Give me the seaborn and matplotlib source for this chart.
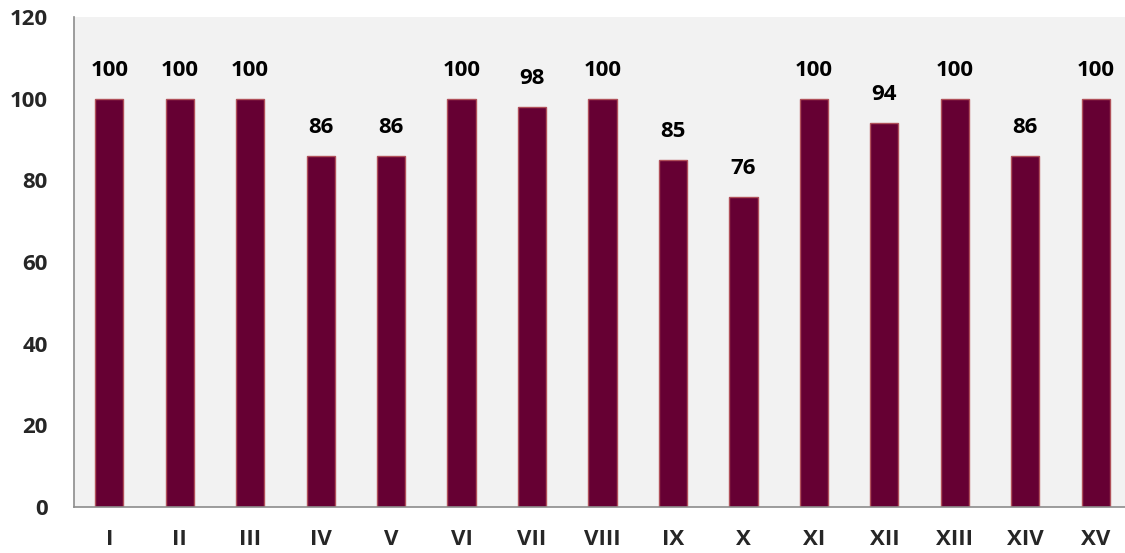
import matplotlib
matplotlib.use("Agg")
import matplotlib.pyplot as plt
import seaborn as sns
import pandas as pd
import numpy as np

categories = ["I", "II", "III", "IV", "V", "VI", "VII", "VIII", "IX", "X",
              "XI", "XII", "XIII", "XIV", "XV"]
values = [100, 100, 100, 86, 86, 100, 98, 100, 85, 76, 100, 94, 100, 86, 100]
y_ticks = [0, 20, 40, 60, 80, 100, 120]

sns.set_style("white")
plt.rcParams["font.family"] = ["Open Sans", "DejaVu Sans"]

df = pd.DataFrame({"group": categories, "value": values})

fig = plt.figure(figsize=(11.25, 5.53), dpi=100)
ax = fig.add_axes([74 / 1125, 1 - 507 / 553, 1057 / 1125, 490 / 553])
ax.set_facecolor("#F2F2F2")

sns.barplot(data=df, x="group", y="value", ax=ax, color="#660033",
            saturation=1, width=0.40, edgecolor="#B0505A", linewidth=1.0)

for i, v in enumerate(values):
    ax.annotate(f"{v}", xy=(i, v), xytext=(0, 13), textcoords="offset points",
                ha="center", va="bottom", fontsize=16, fontweight="bold",
                color="black")

ax.set_ylim(0, 120)
ax.set_xlim(-0.5, len(categories) - 0.5)
ax.set_yticks(y_ticks)
ax.set_xlabel("")
ax.set_ylabel("")

for side in ["top", "right"]:
    ax.spines[side].set_visible(False)
for side in ["left", "bottom"]:
    ax.spines[side].set_color("#8C8C8C")
    ax.spines[side].set_linewidth(1.2)

ax.tick_params(axis="y", direction="out", length=7, width=1.2, color="#8C8C8C",
               pad=12, labelsize=16)
ax.tick_params(axis="x", which="major", length=0, pad=16, labelsize=16)
ax.set_xticks(np.arange(-0.5, len(categories), 1.0), minor=True)
ax.tick_params(axis="x", which="minor", direction="out", length=7, width=1.2,
               color="#8C8C8C")
for lab in ax.get_xticklabels() + ax.get_yticklabels():
    lab.set_fontweight("bold")

fig.savefig("out.png", dpi=100)
